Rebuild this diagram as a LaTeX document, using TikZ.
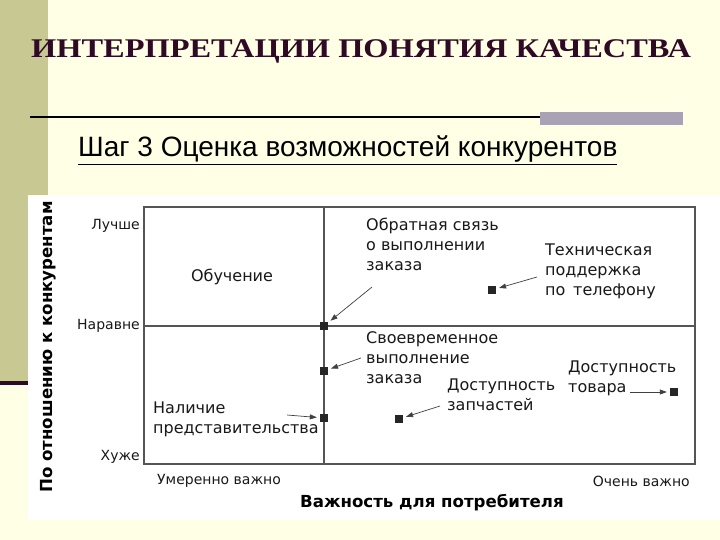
\documentclass[tikz,border=0pt]{standalone}
\usepackage{fontspec}
\setmainfont{Liberation Serif}
\newfontfamily\subfont{Liberation Sans}
\newfontfamily\chartfont{DejaVu Sans}
\usetikzlibrary{arrows.meta}
\definecolor{bg}{HTML}{FFFFE6}
\definecolor{olivebar}{HTML}{C8C892}
\definecolor{maroonc}{HTML}{2E0A24}
\definecolor{greybar}{HTML}{A8A2B4}
\definecolor{chartline}{HTML}{555555}
\begin{document}
\begin{tikzpicture}[x=1pt,y=-1pt,
  lbl/.style={font=\chartfont\fontsize{16}{20}\selectfont, text=black!90, inner sep=0pt, align=left},
  axl/.style={font=\chartfont\fontsize{14}{16}\selectfont, text=black!90, inner sep=0pt},
  bold/.style={font=\chartfont\bfseries\fontsize{16.6}{18}\selectfont, text=black, inner sep=0pt},
  sq/.style={fill=black!85, minimum size=8pt, inner sep=0pt},
  arr/.style={-{Triangle[length=7pt,width=5pt]}, draw=black!75, line width=0.7pt, shorten >=3pt}]
\fill[bg] (0,0) rectangle (720,540);
\useasboundingbox (0,0) rectangle (720,540);
\fill[olivebar] (0,0) rectangle (48,383);
\fill[maroonc] (0,381) rectangle (48,385);
\fill[white] (28,195) rectangle (720,520);
% title
\node[font=\bfseries\fontsize{27}{30}\selectfont, text=maroonc, inner sep=0pt] (title) at (361,51) {\scalebox{1.2}[1]{ИНТЕРПРЕТАЦИИ ПОНЯТИЯ КАЧЕСТВА}};
\draw[line width=2.5pt] (30,117) -- (683,117);
\fill[greybar] (540,112) rectangle (683,125);
\node[anchor=base west, font=\subfont\fontsize{28}{30}\selectfont, inner sep=0pt] (sub) at (78,157) {\underline{Шаг 3 Оценка возможностей конкурентов}};
% chart
\draw[chartline, line width=1.2pt] (144,207) rectangle (695,464);
\draw[chartline, line width=1.2pt] (324,207) -- (324,464);
\draw[chartline, line width=1.2pt] (144,326) -- (695,326);
\node[axl, anchor=east] (better) at (140,226) {Лучше};
\node[axl, anchor=east] (equal) at (140,326) {Наравне};
\node[axl, anchor=east] (worse) at (140,457) {Хуже};
\node[axl, anchor=west] (mod) at (157,481) {Умеренно важно};
\node[axl, anchor=east] (very) at (690,481) {Очень важно};
\node[bold] (xlab) at (432,503) {Важность для потребителя};
\node[bold, rotate=90] (ylab) at (48,347) {По отношению к конкурентам};
\node[lbl] (learn) at (232,277) {Обучение};
% points
\node[sq] (p1) at (324,326) {};
\node[sq] (p2) at (324,371) {};
\node[sq] (p3) at (324,418) {};
\node[sq] (p4) at (492,290) {};
\node[sq] (p5) at (399,419) {};
\node[sq] (p6) at (674,392) {};
% labels
\node[lbl, anchor=north west] (l1) at (366,218) {Обратная связь\\о выполнении\\заказа};
\node[lbl, anchor=north west] (l4) at (545,244) {Техническая\\поддержка\\по\, телефону};
\node[lbl, anchor=north west] (l2) at (366,331) {Своевременное\\выполнение\\заказа};
\node[lbl, anchor=north west] (l3) at (153,402) {Наличие\\представительства};
\node[lbl, anchor=north west] (l5) at (447,379) {Доступность\\запчастей};
\node[lbl, anchor=north west] (l6) at (568,361) {Доступность\\товара};
% arrows
\coordinate (a1) at (372,287);
\coordinate (a2) at (361,358);
\coordinate (a3) at (287,415);
\coordinate (a4) at (537,277);
\coordinate (a5) at (440,406);
\coordinate (a6) at (630,392);
\draw[arr] (a1) -- (p1);
\draw[arr] (a2) -- (p2);
\draw[arr] (a3) -- (p3);
\draw[arr] (a4) -- (p4);
\draw[arr] (a5) -- (p5);
\draw[arr] (a6) -- (p6);
\end{tikzpicture}
\end{document}
